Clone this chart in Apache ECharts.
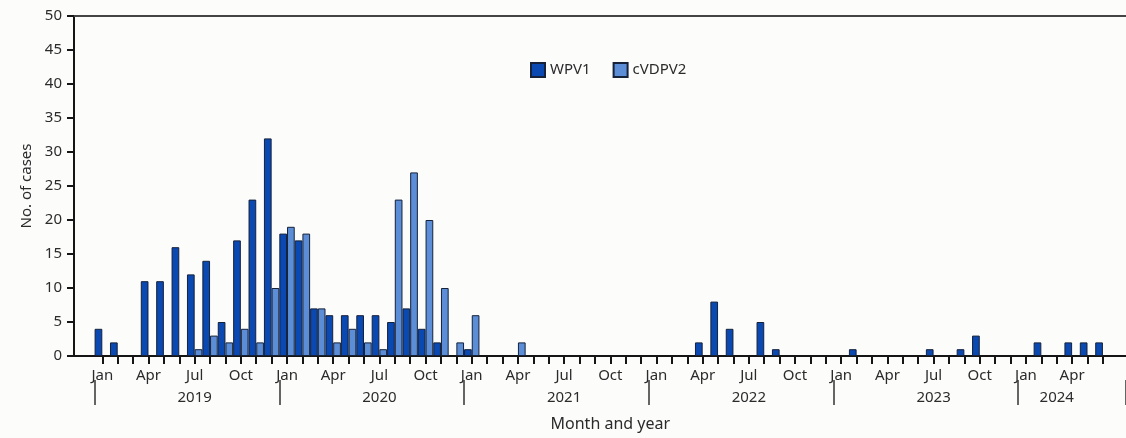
<!DOCTYPE html>
<html>
<head>
<meta charset="utf-8">
<script src="https://cdn.jsdelivr.net/npm/echarts@6/dist/echarts.min.js"></script>
<style>
  html, body { margin: 0; padding: 0; background: #fcfdfb; }
  #chart { width: 1126px; height: 438px; }
</style>
</head>
<body>
<div id="chart"></div>
<script>
// categories: Jan 2019 .. Jun 2024
const years = ['2019', '2020', '2021', '2022', '2023', '2024'];
const monthNames = ['Jan', 'Feb', 'Mar', 'Apr', 'May', 'Jun', 'Jul', 'Aug', 'Sep', 'Oct', 'Nov', 'Dec'];
const months = [];
years.forEach(y => monthNames.forEach(m => months.push(m + ' ' + y)));
months.length = 66;

// cases per month
const wpv1 = [
    4, 2, 0, 11, 11, 16, 12, 14, 5, 17, 23, 32,
    18, 17, 7, 6, 6, 6, 6, 5, 7, 4, 2, 0,
    1, 0, 0, 0, 0, 0, 0, 0, 0, 0, 0, 0,
    0, 0, 0, 2, 8, 4, 0, 5, 1, 0, 0, 0,
    0, 1, 0, 0, 0, 0, 1, 0, 1, 3, 0, 0,
    0, 2, 0, 2, 2, 2
];
const cvdpv2 = [
    0, 0, 0, 0, 0, 0, 1, 3, 2, 4, 2, 10,
    19, 18, 7, 2, 4, 2, 1, 23, 27, 20, 10, 2,
    6, 0, 0, 2, 0, 0, 0, 0, 0, 0, 0, 0,
    0, 0, 0, 0, 0, 0, 0, 0, 0, 0, 0, 0,
    0, 0, 0, 0, 0, 0, 0, 0, 0, 0, 0, 0,
    0, 0, 0, 0, 0, 0
];

// axis gets one empty slot at the end so the year separators stop at Jan 2024
const axisMonths = months.concat(['']);
// where each year name sits (Jul, or Mar for the half year 2024)
const yearLabelAt = {};
years.forEach((y, i) => { yearLabelAt[i * 12 + (i < years.length - 1 ? 6 : 2)] = y; });

const bandW = 15.452;
const txt = '#2b2b2b';
const ink = '#151515';
const font = 'Noto Sans';

const chart = echarts.init(document.getElementById('chart'));
chart.setOption({
    backgroundColor: '#fcfdfb',
    textStyle: { fontFamily: font },
    animation: false,
    legend: {
        left: 525, top: 57, icon: 'rect',
        itemWidth: 14, itemHeight: 14, itemGap: 22,
        textStyle: { fontSize: 15, color: txt },
        data: ['WPV1', 'cVDPV2']
    },
    grid: [
        { left: 74, right: 0, top: 16, bottom: 82 },
        { left: 94.6, width: bandW * axisMonths.length, top: 16, bottom: 82 }
    ],
    xAxis: [
        {   // frame bottom line
            gridIndex: 0, type: 'value', min: 0, max: 1, position: 'bottom',
            axisLine: { lineStyle: { color: ink, width: 2 } },
            axisTick: { show: false }, axisLabel: { show: false }, splitLine: { show: false }
        },
        {   // frame top line
            gridIndex: 0, type: 'value', min: 0, max: 1, position: 'top',
            axisLine: { lineStyle: { color: '#444', width: 2 } },
            axisTick: { show: false }, axisLabel: { show: false }, splitLine: { show: false }
        },
        {   // months
            gridIndex: 1, type: 'category', data: axisMonths, position: 'bottom',
            axisLine: { show: true, lineStyle: { color: ink, width: 2 } },
            axisTick: {
                show: true, alignWithLabel: true, length: 8,
                interval: i => i < months.length,
                lineStyle: { color: ink, width: 2 }
            },
            axisLabel: {
                interval: 0, margin: 12, fontSize: 15, color: txt,
                formatter: (v, i) => (i < months.length && i % 3 === 0) ? monthNames[i % 12] : ''
            },
            name: 'Month and year', nameLocation: 'middle', nameGap: 60,
            nameTextStyle: { fontSize: 16, color: txt }
        },
        {   // years
            gridIndex: 1, type: 'category', data: axisMonths, position: 'bottom', offset: 24,
            axisLine: { show: true, lineStyle: { color: '#fff', width: 1, opacity: 0 } },
            axisTick: {
                show: true, length: 25, interval: i => i % 12 === 0,
                lineStyle: { color: '#333', width: 1.5 }
            },
            axisLabel: {
                interval: 0, margin: 10, fontSize: 15, color: txt,
                formatter: (v, i) => yearLabelAt[i] || ''
            }
        }
    ],
    yAxis: [
        {
            gridIndex: 0, type: 'value', min: 0, max: 50, interval: 5,
            axisLine: { show: true, lineStyle: { color: ink, width: 2 } },
            axisTick: { show: true, length: 7, lineStyle: { color: ink, width: 2 } },
            axisLabel: { fontSize: 15, color: txt, margin: 12 },
            splitLine: { show: false },
            name: 'No. of cases', nameLocation: 'middle', nameGap: 40,
            nameTextStyle: { fontSize: 15, color: txt }
        },
        { gridIndex: 1, type: 'value', min: 0, max: 50, show: false }
    ],
    series: [
        {
            name: 'WPV1', type: 'bar', xAxisIndex: 2, yAxisIndex: 1,
            barGap: '0%', barWidth: '50%',
            itemStyle: { color: '#0a48b2', borderColor: '#16213a', borderWidth: 1 },
            data: wpv1.map(v => v || '-')
        },
        {
            name: 'cVDPV2', type: 'bar', xAxisIndex: 2, yAxisIndex: 1,
            barGap: '0%', barWidth: '50%',
            itemStyle: { color: '#5b8ed6', borderColor: '#16213a', borderWidth: 1 },
            data: cvdpv2.map(v => v || '-')
        }
    ]
});
</script>
</body>
</html>
